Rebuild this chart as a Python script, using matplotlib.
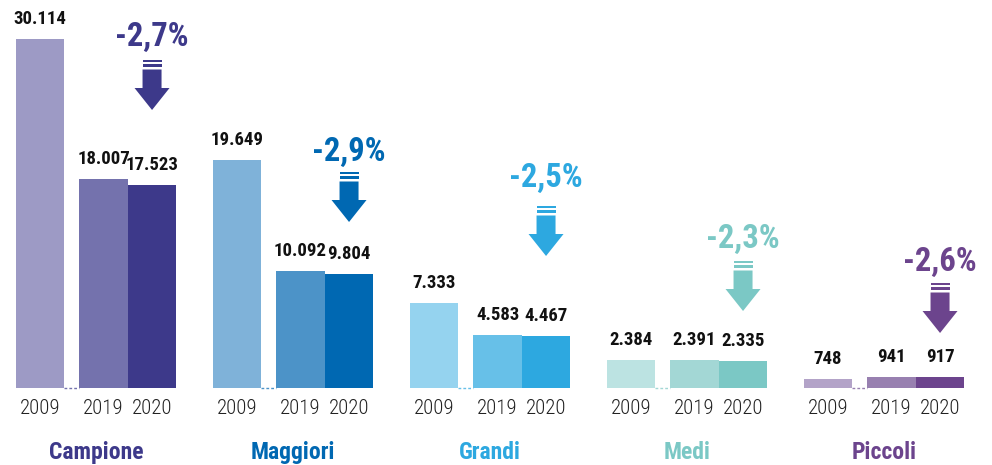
import matplotlib
matplotlib.use('Agg')
import matplotlib.pyplot as plt
from matplotlib.patches import Polygon, Rectangle
import numpy as np

# data
groups = ['Campione', 'Maggiori', 'Grandi', 'Medi', 'Piccoli']
years = ['2009', '2019', '2020']
values = {
    'Campione': [30114, 18007, 17523],
    'Maggiori': [19649, 10092, 9804],
    'Grandi': [7333, 4583, 4467],
    'Medi': [2384, 2391, 2335],
    'Piccoli': [748, 941, 917],
}
value_labels = {
    'Campione': ['30.114', '18.007', '17.523'],
    'Maggiori': ['19.649', '10.092', '9.804'],
    'Grandi': ['7.333', '4.583', '4.467'],
    'Medi': ['2.384', '2.391', '2.335'],
    'Piccoli': ['748', '941', '917'],
}
pct_change = ['-2,7%', '-2,9%', '-2,5%', '-2,3%', '-2,6%']

# styles
bar_colors = {
    'Campione': ['#9d9ac5', '#7472ad', '#3d398a'],
    'Maggiori': ['#7fb2d9', '#4c93c8', '#0068b2'],
    'Grandi': ['#95d3ef', '#67c0e8', '#2da8e0'],
    'Medi': ['#bce3e2', '#a3d7d5', '#7bc8c5'],
    'Piccoli': ['#b3a3c8', '#9880b0', '#6c448d'],
}
# pixel rows (from top) of the percent label and the arrow icon top
pct_label_px = [37, 152, 178, 239, 262]
arrow_top_px = [60, 172, 206, 261, 283]

W, H = 992, 465
base_px = 388            # baseline row
px_x = 48.5              # pixels per bar width
px_y = 349 / 30114       # pixels per unit value
offsets = [0, 1.31, 2.31]
group_step = 197 / px_x

fig = plt.figure(figsize=(W / 100, H / 100), dpi=100)
ax = fig.add_axes([0, 0, 1, 1])
x0 = -40 / px_x
ax.set_xlim(x0, x0 + W / px_x)
ax.set_ylim(-(H - base_px) / px_y, base_px / px_y)
ax.axis('off')

font_n = ['Roboto Condensed', 'Barlow Condensed', 'DejaVu Sans']


def row(p):
    # pixel row from top -> data y
    return (base_px - p) / px_y


def draw_arrow(cx, top, color):
    dx = 1 / px_x
    dy = 1 / px_y
    y = row(top)
    w = 19 * dx
    ax.add_patch(Rectangle((cx - w / 2, y - 2.5 * dy), w, 2.5 * dy, color=color, lw=0))
    ax.add_patch(Rectangle((cx - w / 2, y - 7 * dy), w, 2.5 * dy, color=color, lw=0))
    pts = [(cx - w / 2, y - 9.5 * dy), (cx + w / 2, y - 9.5 * dy),
           (cx + w / 2, y - 28 * dy), (cx + 17.5 * dx, y - 28 * dy),
           (cx, y - 50 * dy), (cx - 17.5 * dx, y - 28 * dy),
           (cx - w / 2, y - 28 * dy)]
    ax.add_patch(Polygon(pts, closed=True, color=color, lw=0))


for i, g in enumerate(groups):
    xs = np.array(offsets) + i * group_step
    cols = bar_colors[g]
    ax.bar(xs, values[g], width=1.0, color=cols, align='center', linewidth=0)
    # dotted baseline between 2009 and 2019
    ax.plot([xs[0] + 0.5, xs[1] - 0.5], [0, 0], ls=(0, (2, 1.5)), lw=1.0, color=cols[1])
    for x, v, lab in zip(xs, values[g], value_labels[g]):
        ax.annotate(lab, (x, v), xytext=(0, 8), textcoords='offset points',
                    ha='center', va='bottom', fontsize=13.5, fontweight='bold',
                    family=font_n, color='#111111')
    for x, yr in zip(xs, years):
        ax.text(x, row(408), yr, ha='center', va='center', fontsize=15,
                fontweight='light', family=font_n, color='#222222')
    mid = (xs[0] + xs[2]) / 2
    ax.text(mid, row(452), g, ha='center', va='center', fontsize=17,
            fontweight='bold', family=font_n, color=cols[2])
    ax.text(xs[2], row(pct_label_px[i]), pct_change[i], ha='center', va='center',
            fontsize=23.5, fontweight='bold', family=font_n, color=cols[2])
    draw_arrow(xs[2], arrow_top_px[i], cols[2])

fig.savefig('out.png', dpi=100)
